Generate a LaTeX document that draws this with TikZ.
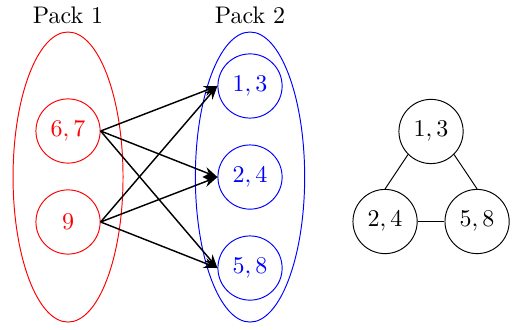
\documentclass[tikz,border=0pt]{standalone}
\usepackage{amsmath,amsfonts}
\usepackage[dvipsnames]{xcolor}
\usetikzlibrary{arrows, arrows.meta}
\usetikzlibrary{positioning}
\usetikzlibrary{calc}

\begin{document}
\begin{tikzpicture}[scale=1,
		packnode/.style={circle, draw, minimum size=0.94cm, inner sep=1pt}]
					\useasboundingbox (0,0) rectangle (7.51,4.817);
					%draw packs
					\draw[red] (0.996,2.225) ellipse (0.805 and 2.123);
					\draw[blue] (3.66,2.225) ellipse (0.80 and 2.123);
					\node (p1) at (0.996,4.597) {Pack 1};
					\node (p2) at (3.66,4.597) {Pack 2};
					%elements of pack 1
					\node[packnode, red] (a67) at (0.996,2.899) {$6,7$};
					\node[packnode, red] (a9) at (0.996,1.567) {$9$};
					%elements of pack 2
					\node[packnode, blue] (b13) at (3.66,3.558) {$1,3$};
					\node[packnode, blue] (b24) at (3.66,2.225) {$2,4$};
					\node[packnode, blue] (b58) at (3.66,0.893) {$5,8$};
					%add arrows
					\foreach \s in {a67,a9}
						\foreach \t in {b13,b24,b58}
							\draw[-{Stealth[length=2mm]}, semithick] (\s.east) -- (\t.west);
					%graph
					\node[packnode] (g13) at (6.31,2.892) {$1,3$};
					\node[packnode] (g24) at (5.637,1.574) {$2,4$};
					\node[packnode] (g58) at (6.984,1.574) {$5,8$};
					\draw (g13.south west) -- (g24.north);
					\draw (g13.south east) -- (g58.north);
					\draw (g24.east) -- (g58.west);
				\end{tikzpicture}
\end{document}
